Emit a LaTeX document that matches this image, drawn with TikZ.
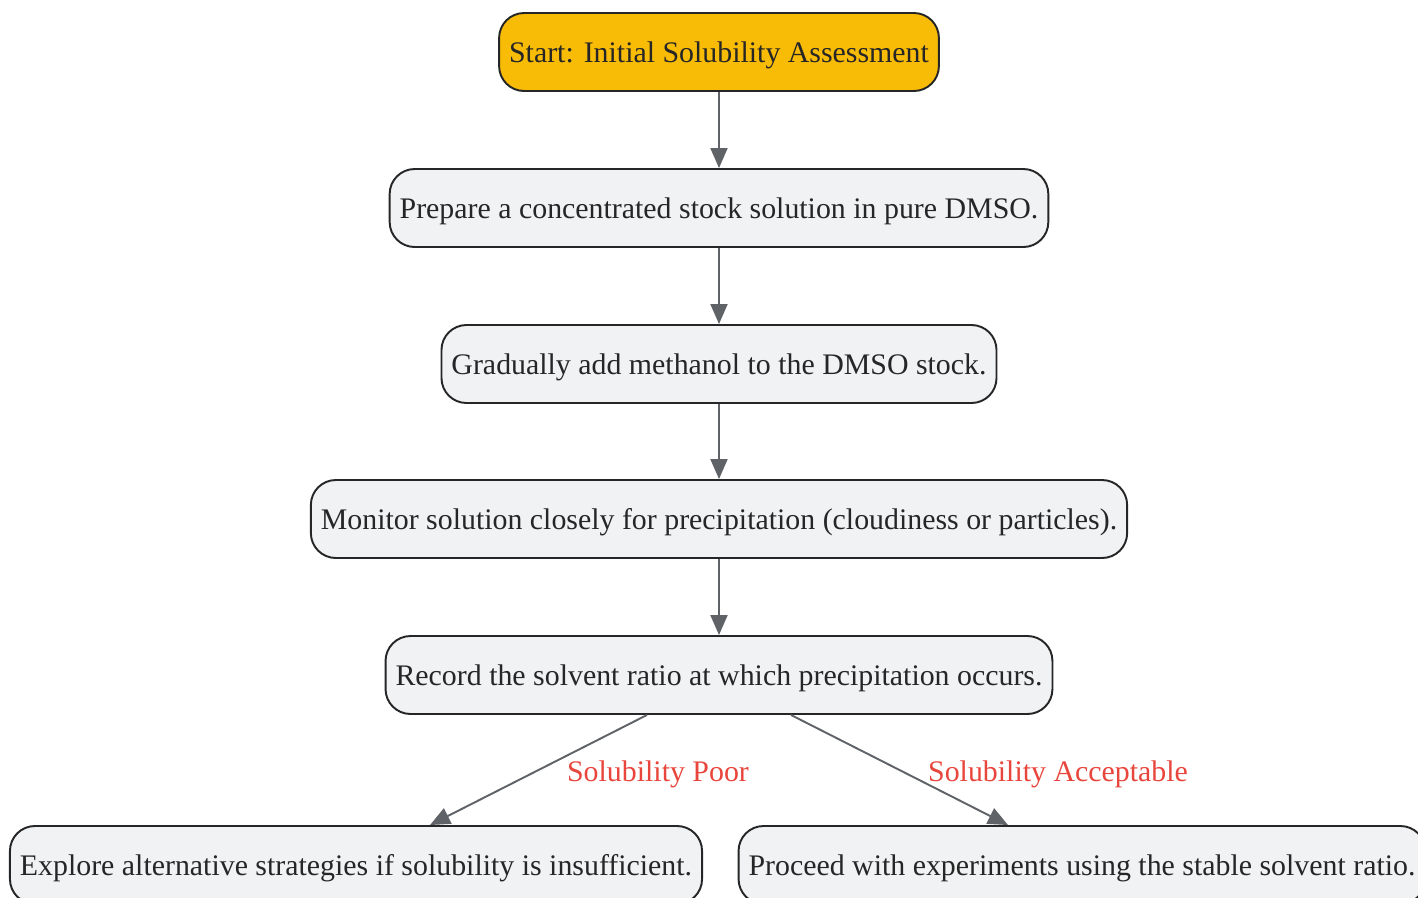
\documentclass[tikz,border=0pt]{standalone}
\usepackage{fontspec}
\setmainfont{Liberation Serif}
\usetikzlibrary{arrows.meta}
\definecolor{startyellow}{HTML}{F9BC06}
\definecolor{boxgray}{HTML}{F1F2F4}
\definecolor{arrowgray}{HTML}{5F6368}
\definecolor{labelred}{HTML}{E8453C}

\begin{document}
\begin{tikzpicture}[x=0.02cm,y=-0.02cm,
  box/.style={draw=black!85,line width=1.1pt,rounded corners=0.5cm,fill=boxgray,
    minimum height=1.56cm,inner xsep=0.2cm,text depth=0pt,text=black!85,
    font=\fontsize{17}{20}\selectfont},
  flow/.style={draw=arrowgray,line width=1.1pt,-{Triangle[length=0.4cm,width=0.34cm]}},
  cond/.style={text=labelred,font=\fontsize{17}{20}\selectfont}]
\useasboundingbox (0,0) rectangle (1418,897);

\node[box,fill=startyellow] (start) at (719,52) {Start: Initial Solubility Assessment};
\node[box] (prep) at (719,208) {Prepare a concentrated stock solution in pure DMSO.};
\node[box] (addmeth) at (719,364) {Gradually add methanol to the DMSO stock.};
\node[box] (monitor) at (719,519) {Monitor solution closely for precipitation (cloudiness or particles).};
\node[box] (record) at (719,675) {Record the solvent ratio at which precipitation occurs.};
\node[box] (explore) at (356,865) {Explore alternative strategies if solubility is insufficient.};
\node[box] (proceed) at (1082,865) {Proceed with experiments using the stable solvent ratio.};

\draw[flow] (start) -- (prep);
\draw[flow] (prep) -- (addmeth);
\draw[flow] (addmeth) -- (monitor);
\draw[flow] (monitor) -- (record);
\draw[flow] ([xshift=-1.44cm]record.south) -- ([xshift=1.48cm]explore.north);
\draw[flow] ([xshift=1.44cm]record.south) -- ([xshift=-1.48cm]proceed.north);

\node[cond] (lpoor) at (658,774) {Solubility Poor};
\node[cond] (lacc) at (1058,774) {Solubility Acceptable};
\end{tikzpicture}
\end{document}
